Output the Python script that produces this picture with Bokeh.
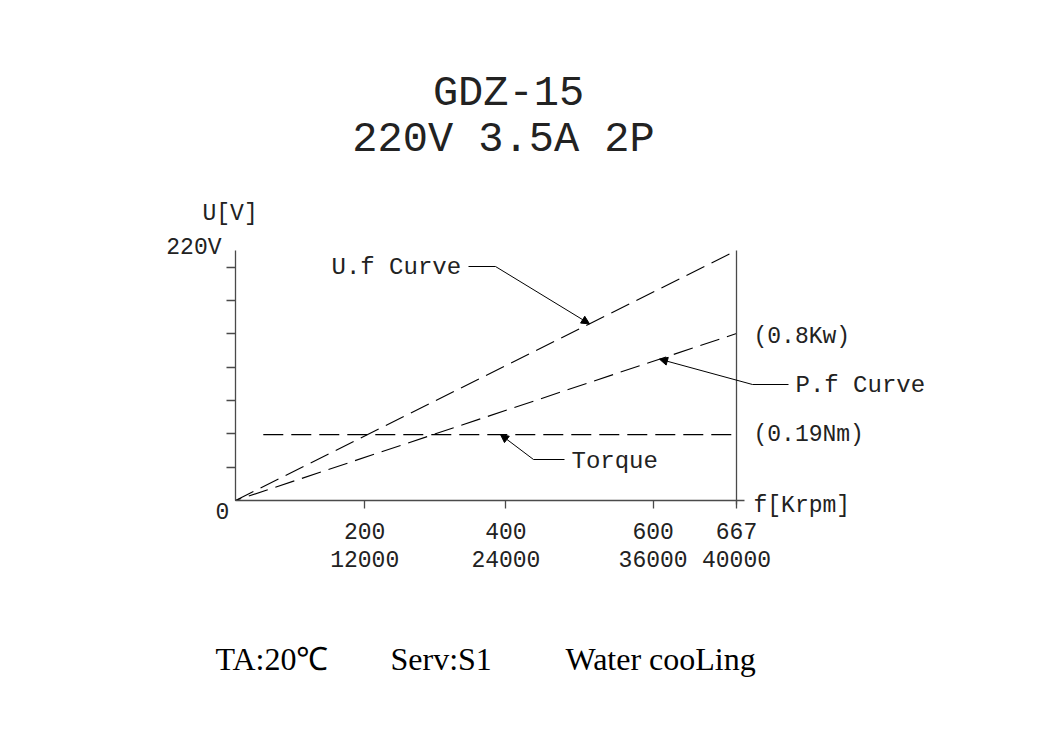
import numpy as np
from bokeh.plotting import figure
from bokeh.models import Range1d, LinearAxis, FixedTicker, Arrow, NormalHead
from bokeh.core.properties import value
from bokeh.embed import file_html
from bokeh.resources import INLINE

# ---------------- data ----------------
freq_hz = [0, 667]                 # frequency axis [Hz]
uf_volts = [0, 220]                # U.f curve [V]
pf_level = [0, 147]                # P.f curve (reaches 0.8 kW at 667 Hz), chart units
torque_freq = [37, 667]            # torque line extent
torque_level = [58, 58]            # constant torque 0.19 Nm, chart units
freq_ticks = [200, 400, 600, 667]
rpm_ticks = [12000, 24000, 36000, 40000]
title_lines = ["GDZ-15", "220V 3.5A 2P"]
footer = ["TA:20\u2103", "Serv:S1", "Water cooLing"]

# ---------------- layout ----------------
W, H = 1045, 750
# page-pixel helpers -> data coords (axes box: x 235..736, y 250..500 on the page)
def X(px):
    return (px - 235) * 667 / 501

def Y(py):
    return (500 - py) * 220 / 250

tick_draw_pos = [172, 360, 556, 667]          # where the drawing places the x ticks
y_div = [220 * k / 7.5 for k in range(1, 8)]  # unlabeled divisions on the U axis

AX = "#4a4a4a"
INK = "#222222"
CAD = "Liberation Mono"

p = figure(width=W, height=H, x_range=Range1d(X(0), X(W)), y_range=Range1d(Y(H), Y(0)),
           output_backend="svg", toolbar_location=None,
           x_axis_type=None, y_axis_type=None, min_border=0)
p.grid.visible = False
p.outline_line_color = None
p.background_fill_color = "white"
p.border_fill_color = "white"

# left axis: unlabeled divisions drawn as (minor) ticks
ya = LinearAxis(fixed_location=0, bounds=(0, 220),
                ticker=FixedTicker(ticks=[], minor_ticks=y_div),
                major_tick_line_color=None, minor_tick_in=0, minor_tick_out=9,
                minor_tick_line_color=AX, minor_tick_line_width=1.3,
                axis_line_color=AX, axis_line_width=1.3)
p.add_layout(ya, "left")

# bottom axis
overrides = {pos: f"{f}\n{r}" for pos, f, r in zip(tick_draw_pos, freq_ticks, rpm_ticks)}
xa = LinearAxis(fixed_location=0, bounds=(0, X(744)),
                ticker=FixedTicker(ticks=tick_draw_pos), major_label_overrides=overrides,
                major_tick_in=0, major_tick_out=8, minor_tick_line_color=None,
                axis_line_color=AX, major_tick_line_color=AX, axis_line_width=1.3,
                major_tick_line_width=1.3, major_label_standoff=11,
                major_label_text_font=CAD, major_label_text_font_size="23px",
                major_label_text_color=INK, major_label_text_line_height=1.1)
p.add_layout(xa, "below")

# right axis (line only)
ra = LinearAxis(fixed_location=667, bounds=(Y(504), 220),
                ticker=FixedTicker(ticks=[]), axis_line_color=AX, axis_line_width=1.3,
                major_tick_line_color=None, minor_tick_line_color=None)
p.add_layout(ra, "right")

# curves
p.line(freq_hz, uf_volts, line_color="black", line_width=1.1, line_dash="20 8")
p.line(freq_hz, pf_level, line_color="black", line_width=1.1, line_dash="20 8",
       line_dash_offset=14)
p.line(torque_freq, torque_level, line_color="black", line_width=1.1, line_dash="20 8")

def label(px, py, text, size, align="left", font=CAD, color=INK):
    p.text(x=[X(px)], y=[Y(py)], text=[text], text_font=value(font),
           text_font_size=value(f"{size}px"), text_align=align,
           text_baseline="middle", text_color=color)

def seg(x0, y0, x1, y1, head=False):
    p.add_layout(Arrow(x_start=x0, y_start=y0, x_end=x1, y_end=y1,
                       line_color="black", line_width=1,
                       end=NormalHead(size=8, fill_color="black", line_color="black",
                                      line_width=1) if head else None))

# title
label(508, 93, title_lines[0], 42, "center")
label(503, 139, title_lines[1], 42, "center")

# axis captions
label(202, 213, "U[V]", 23)
label(221, 247, "220V", 23, "right")
label(222, 510, "0", 23, "center")
label(753, 505, "f[Krpm]", 23)

# right value labels
label(753, 336, "(0.8Kw)", 23)
label(753, 434, "(0.19Nm)", 23)

# U.f leader
tip_x = X(589)
tip_y = np.interp(tip_x, freq_hz, uf_volts)
seg(X(468), Y(266), X(495), Y(266))
seg(X(495), Y(266), tip_x, tip_y, head=True)
label(331, 267, "U.f Curve", 24)

# P.f leader
tip_x = X(659)
tip_y = np.interp(tip_x, freq_hz, pf_level)
seg(X(752), Y(384), X(788), Y(384))
seg(X(752), Y(384), tip_x, tip_y, head=True)
label(795, 385, "P.f Curve", 24)

# Torque leader
tip_x = X(500)
seg(X(533), Y(459), X(564), Y(459))
seg(X(533), Y(459), tip_x, torque_level[0], head=True)
label(571, 461, "Torque", 24)

# footer
label(215, 658, footer[0], 32, font="Liberation Serif", color="black")
label(390, 658, footer[1], 32, font="Liberation Serif", color="black")
label(565, 658, footer[2], 32, font="Liberation Serif", color="black")

open("out.html", "w").write(file_html(p, INLINE))
